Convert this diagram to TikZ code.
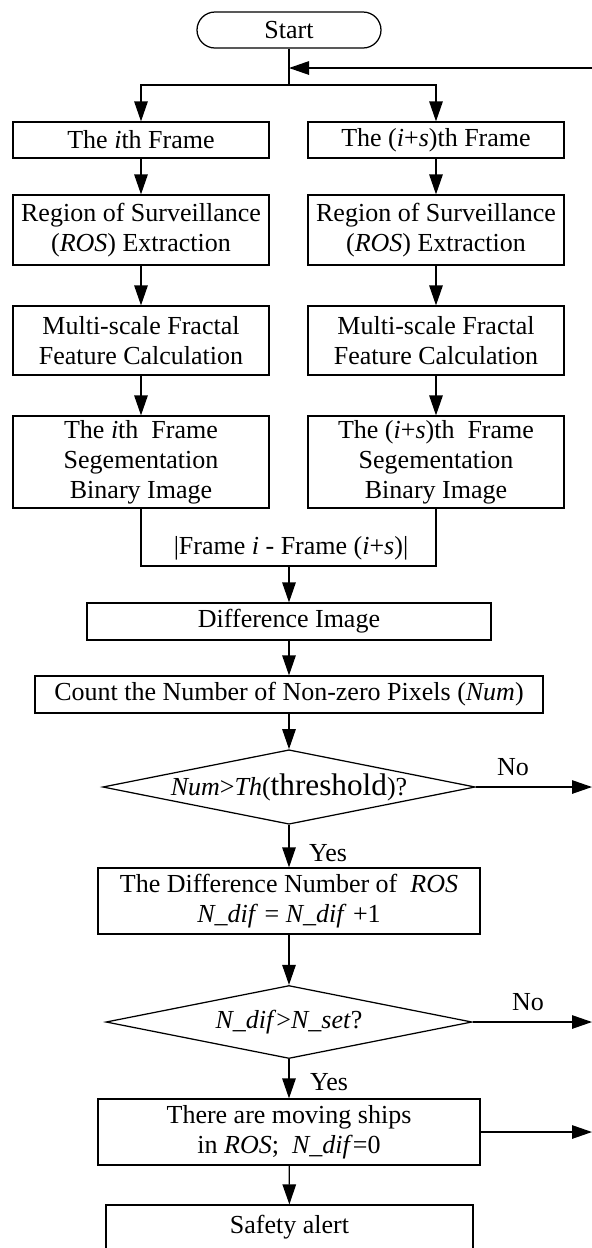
\documentclass[tikz,border=0pt]{standalone}
\usepackage{fontspec}
\setmainfont{Liberation Serif}
\usetikzlibrary{shapes.geometric, arrows.meta}
\tikzset{every picture/.append style={x=0.4pt, y=-0.4pt, line width=0.5pt}}
\tikzset{every node/.append style={font=\fontsize{10.4}{12}\selectfont}}
\tikzset{
    procbox/.style={draw, rectangle, inner sep=0pt, align=center},
    termbox/.style={draw, rectangle, rounded corners=7.2pt, inner sep=0pt},
    decbox/.style={draw, diamond, aspect=5, inner sep=0pt,
        minimum width=146.4pt, minimum height=29.2pt},
    tag/.style={inner sep=0pt},
    flow/.style={-{Triangle[length=8pt, width=5.4pt]}}
}

\begin{document}
\begin{tikzpicture}
	\useasboundingbox (0,0) rectangle (592,1248);
	\node [termbox, minimum width=73.6pt, minimum height=14.4pt] (start) at (289,30) {Start};
	\node [procbox, minimum width=102.4pt, minimum height=14.4pt] (f1) at (141,140) {The \textit{i}th Frame};
	\node [procbox, minimum width=102.4pt, minimum height=14.4pt] (f2) at (436,140) {The (\textit{i}+\textit{s})th Frame};
	\node [procbox, minimum width=102.4pt, minimum height=28pt] (r1) at (141,230) {Region of Surveillance\\(\textit{ROS}) Extraction};
	\node [procbox, minimum width=102.4pt, minimum height=28pt] (r2) at (436,230) {Region of Surveillance\\(\textit{ROS}) Extraction};
	\node [procbox, minimum width=102.4pt, minimum height=27.6pt] (m1) at (141,340.5) {Multi-scale Fractal\\Feature Calculation};
	\node [procbox, minimum width=102.4pt, minimum height=27.6pt] (m2) at (436,340.5) {Multi-scale Fractal\\Feature Calculation};
	\node [procbox, minimum width=102.4pt, minimum height=36.8pt] (b1) at (141,462) {The \textit{i}th~ Frame\\Segementation\\Binary Image};
	\node [procbox, minimum width=102.4pt, minimum height=36.8pt] (b2) at (436,462) {The (\textit{i}+\textit{s})th~ Frame\\Segementation\\Binary Image};
	\node [tag] (mlabel) at (291,548) {|Frame \textit{i} - Frame (\textit{i}+\textit{s})|};
	\node [procbox, minimum width=161.6pt, minimum height=14.8pt] (diff) at (289,621.5) {Difference Image};
	\node [procbox, minimum width=203.2pt, minimum height=14.8pt] (count) at (289,694.5) {Count the Number of Non-zero Pixels (\textit{Num})};
	\node [decbox] (dec1) at (289,787) {\textit{Num}>\textit{Th}({\fontsize{12.5}{12}\selectfont threshold})?};
	\node [procbox, minimum width=152.8pt, minimum height=26.4pt] (num) at (289,901) {The Difference Number of~ \textit{ROS}\\\textit{N\_dif} = \textit{N\_dif} +1};
	\node [decbox] (dec2) at (289,1022) {\textit{N\_dif}>\textit{N\_set}?};
	\node [procbox, minimum width=152.8pt, minimum height=26.4pt] (ships) at (289,1132) {There are moving ships\\in \textit{ROS};~ \textit{N\_dif}=0};
	\node [procbox, minimum width=146.8pt, minimum height=17.6pt] (alert) at (289.5,1227) {Safety alert};
	\node [tag] (no1) at (513,767) {No};
	\node [tag] (no2) at (528,1002) {No};
	\node [tag] (yes1) at (328,853) {Yes};
	\node [tag] (yes2) at (329,1082) {Yes};
	\coordinate (split) at (289,85);
	\coordinate (loopin) at (289,68);
	\coordinate (loopsrc) at (592,68);
	\coordinate (merge) at (289,566);
	\coordinate (out1) at (592,787);
	\coordinate (out2) at (592,1022);
	\coordinate (out3) at (592,1132);
	\draw (start) -- (split); \draw [flow] (loopsrc) -- (loopin);
	\draw [flow] (split) -| (f1); \draw [flow] (split) -| (f2);
	\draw [flow] (f1) -- (r1); \draw [flow] (f2) -- (r2);
	\draw [flow] (r1) -- (m1); \draw [flow] (r2) -- (m2);
	\draw [flow] (m1) -- (b1); \draw [flow] (m2) -- (b2);
	\draw (b1) |- (merge); \draw (b2) |- (merge);
	\draw [flow] (merge) -- (diff); \draw [flow] (diff) -- (count);
	\draw [flow] (count) -- (dec1); \draw [flow] (dec1) -- (num);
	\draw [flow] (num) -- (dec2); \draw [flow] (dec2) -- (ships);
	\draw [flow] (ships) -- (alert);
	\draw [flow] (dec1) -- (out1); \draw [flow] (dec2) -- (out2);
	\draw [flow] (ships) -- (out3);
\end{tikzpicture}
\end{document}
